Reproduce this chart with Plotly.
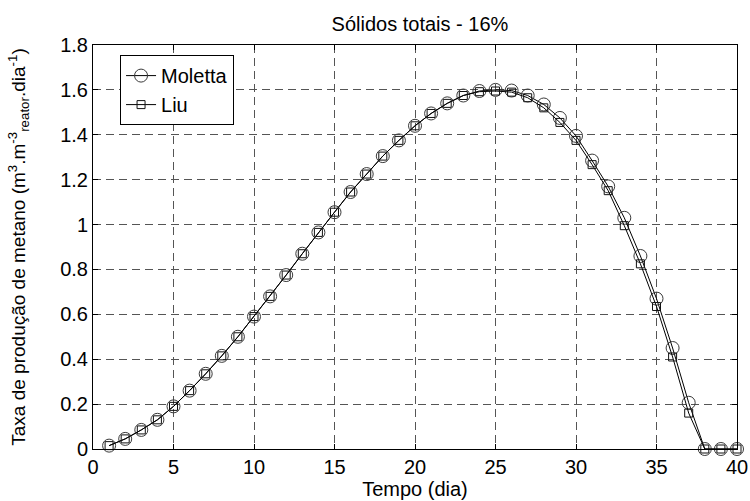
import plotly.graph_objects as go

days = list(range(1, 41))
moletta = [0.015, 0.045, 0.085, 0.13, 0.19, 0.26, 0.335, 0.415, 0.50, 0.59,
           0.68, 0.775, 0.87, 0.965, 1.055, 1.145, 1.225, 1.305, 1.375, 1.44,
           1.495, 1.54, 1.575, 1.595, 1.60, 1.597, 1.575, 1.535, 1.475, 1.395,
           1.285, 1.17, 1.03, 0.86, 0.67, 0.45, 0.206, 0.0, 0.0, 0.0]
liu = [0.015, 0.045, 0.085, 0.13, 0.19, 0.26, 0.335, 0.415, 0.50, 0.59,
       0.68, 0.775, 0.87, 0.965, 1.055, 1.145, 1.225, 1.305, 1.375, 1.44,
       1.495, 1.54, 1.575, 1.592, 1.595, 1.59, 1.565, 1.52, 1.455, 1.375,
       1.267, 1.151, 0.995, 0.825, 0.635, 0.41, 0.16, 0.0, 0.0, 0.0]

x_ticks = [0, 5, 10, 15, 20, 25, 30, 35, 40]
y_ticks = [0, 0.2, 0.4, 0.6, 0.8, 1, 1.2, 1.4, 1.6, 1.8]
y_labels = ["0", "0.2", "0.4", "0.6", "0.8", "1", "1.2", "1.4", "1.6", "1.8"]

fig = go.Figure()
fig.add_trace(go.Scatter(
    x=days, y=moletta, name="Moletta", mode="lines+markers",
    line=dict(color="black", width=1),
    marker=dict(symbol="circle-open", size=13, color="#3a3a3a", line=dict(width=1)),
    cliponaxis=False,
))
fig.add_trace(go.Scatter(
    x=days, y=liu, name="Liu", mode="lines+markers",
    line=dict(color="black", width=1),
    marker=dict(symbol="square-open", size=8, color="#111111", line=dict(width=1)),
    cliponaxis=False,
))

axis_common = dict(
    showline=True, linecolor="black", linewidth=1, mirror="ticks",
    ticks="inside", ticklen=5, tickcolor="black",
    showgrid=True, gridcolor="#555555", griddash="8px,5px", gridwidth=1,
    zeroline=False, tickfont=dict(size=20, color="black"), automargin=False,
)

fig.update_layout(
    width=750, height=501,
    margin=dict(l=93, r=13, t=45, b=52),
    paper_bgcolor="white", plot_bgcolor="white",
    font=dict(family="Liberation Sans, Arial, sans-serif", color="black", size=20),
    title=dict(text="Sólidos totais - 16%", x=0.56, xanchor="center",
               yref="container", y=1 - 24 / 501, yanchor="middle",
               font=dict(size=20), automargin=False),
    xaxis=dict(range=[0, 40], tickvals=x_ticks,
               title=dict(text="Tempo (dia)", standoff=0, font=dict(size=20)),
               **axis_common),
    yaxis=dict(range=[0, 1.8], tickvals=y_ticks, ticktext=y_labels,
               title=dict(text="Taxa de produção de metano (m<sup>3</sup>.m<sup>-3</sup><sub>reator</sub>.dia<sup>-1</sup>)",
                          standoff=29, font=dict(size=19)),
               **axis_common),
    legend=dict(x=0.042, y=0.975, xanchor="left", yanchor="top",
                bordercolor="black", borderwidth=1, bgcolor="white",
                font=dict(size=20), tracegroupgap=0),
    showlegend=True,
)

fig.write_html("out.html")
